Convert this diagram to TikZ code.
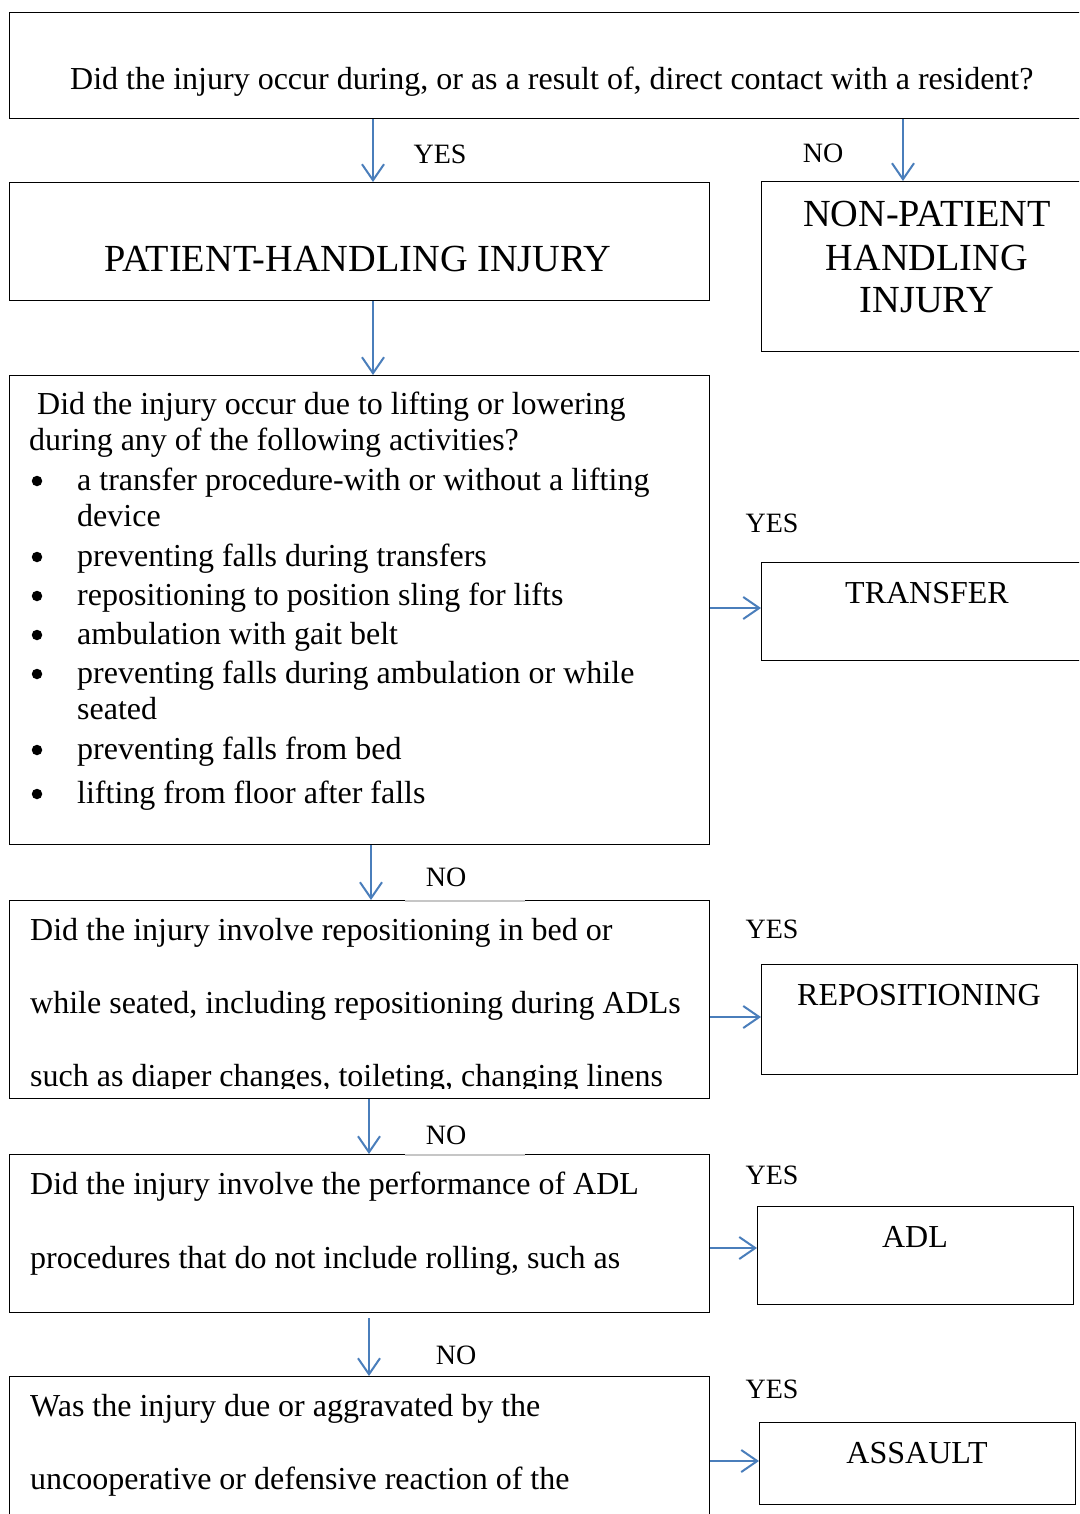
\documentclass[tikz,border=0pt]{standalone}
\usepackage{fontspec}
\setmainfont{Liberation Serif}
\usetikzlibrary{arrows.meta}
\definecolor{arrowblue}{HTML}{4A7EBB}
\begin{document}
\begin{tikzpicture}[x=1pt,y=-1pt,
  box/.style={draw=black,line width=1.3pt,inner sep=0pt,anchor=north west},
  txt/.style={font=\fontsize{32}{38}\selectfont,inner sep=0pt,anchor=base west},
  ctxt/.style={font=\fontsize{32}{38}\selectfont,inner sep=0pt,anchor=base},
  big/.style={font=\fontsize{38.3}{44}\selectfont,inner sep=0pt,anchor=base},
  lbl/.style={font=\fontsize{28}{32}\selectfont,inner sep=0pt,anchor=base},
  bul/.style={circle,fill=black,inner sep=0pt,minimum size=10.5pt},
  nolbl/.style={fill=white,minimum width=120pt,minimum height=44pt,inner sep=0pt,anchor=south},
  arr/.style={draw=arrowblue,line width=2pt,-{Straight Barb[length=16pt,width=22pt,line width=2pt]}}
]
\useasboundingbox (0,0) rectangle (1079,1514);
\clip (0,0) rectangle (1079,1514);
\fill[white] (0,0) rectangle (1079,1514);

% boxes
\node[box,minimum width=1100pt,minimum height=106pt] (q1) at (9,12) {};
\node[box,minimum width=700pt,minimum height=118pt] (ph) at (9,182) {};
\node[box,minimum width=340pt,minimum height=170pt] (nph) at (761,181) {};
\node[box,minimum width=700pt,minimum height=469pt] (q2) at (9,375) {};
\node[box,minimum width=340pt,minimum height=98pt] (tr) at (761,562) {};
\node[box,minimum width=700pt,minimum height=198pt] (q3) at (9,900) {};
\node[box,minimum width=316pt,minimum height=110pt] (rp) at (761,964) {};
\node[box,minimum width=700pt,minimum height=158pt] (q4) at (9,1154) {};
\node[box,minimum width=316pt,minimum height=98pt] (adl) at (757,1206) {};
\node[box,minimum width=700pt,minimum height=160pt] (q5) at (9,1376) {};
\node[box,minimum width=316pt,minimum height=82pt] (as) at (759,1422) {};

% texts
\node[txt] (t1) at (70,90) {Did the injury occur during, or as a result of, direct contact with a resident?};
\node[big] (t2) at (358,271) {PATIENT-HANDLING INJURY};
\node[big] (t3a) at (927,227) {NON-PATIENT};
\node[big] (t3b) at (927,270) {HANDLING};
\node[big] (t3c) at (927,312) {INJURY};

\node[txt] (l1) at (37,414) {Did the injury occur due to lifting or lowering};
\node[txt] (l2) at (29,450) {during any of the following activities?};
\foreach \y/\t [count=\i] in {490/{a transfer procedure-with or without a lifting},
   526/{device},
   566/{preventing falls during transfers},
   605/{repositioning to position sling for lifts},
   644/{ambulation with gait belt},
   683/{preventing falls during ambulation or while},
   719/{seated},
   759/{preventing falls from bed},
   803/{lifting from floor after falls}}
  {\node[txt] (li\i) at (77,\y) {\t};}
\foreach \y [count=\i] in {481,557,596,635,674,750,794}
  {\node[bul] (bu\i) at (37,\y) {};}

\node[ctxt] (t4) at (927,603) {TRANSFER};

\node[txt] (m1) at (30,940) {Did the injury involve repositioning in bed or};
\node[txt] (m2) at (30,1013) {while seated, including repositioning during ADLs};
\begin{scope}
\clip (10,1050) rectangle (708,1088);
\node[txt] (m3) at (30,1086) {such as diaper changes, toileting, changing linens};
\end{scope}
\node[ctxt] (t5) at (919,1005) {REPOSITIONING};

\node[txt] (n1) at (30,1194) {Did the injury involve the performance of ADL};
\node[txt] (n2) at (30,1268) {procedures that do not include rolling, such as};
\node[ctxt] (t6) at (915,1247) {ADL};

\node[txt] (o1) at (30,1416) {Was the injury due or aggravated by the};
\node[txt] (o2) at (30,1489) {uncooperative or defensive reaction of the};
\node[ctxt] (t7) at (917,1463) {ASSAULT};

% NO label backgrounds
\node[nolbl] (nb1) at (465,901) {};
\draw[gray!45,line width=1.3pt] (nb1.south west) -- (nb1.south east);
\node[nolbl] (nb2) at (465,1155) {};
\draw[gray!45,line width=1.3pt] (nb2.south west) -- (nb2.south east);

% labels
\node[lbl] (y1) at (440,164) {YES};
\node[lbl] (no1) at (823,163) {NO};
\node[lbl] (y2) at (772,532) {YES};
\node[lbl] (no2) at (446,886) {NO};
\node[lbl] (y3) at (772,938) {YES};
\node[lbl] (no3) at (446,1144) {NO};
\node[lbl] (y4) at (772,1184) {YES};
\node[lbl] (no4) at (456,1364) {NO};
\node[lbl] (y5) at (772,1398) {YES};

% arrow coordinates
\coordinate (ax1) at (373,0);
\coordinate (ax2) at (903,0);
\coordinate (ax3) at (371,0);
\coordinate (ax4) at (369,0);
\coordinate (ay1) at (0,608);
\coordinate (ay2) at (0,1017);
\coordinate (ay3) at (0,1248);
\coordinate (ay4) at (0,1461);
\coordinate (s4) at (369,1318);

% connectors
\draw[arr] (ax1 |- q1.south) -- (ax1 |- ph.north);
\draw[arr] (ax2 |- q1.south) -- (ax2 |- nph.north);
\draw[arr] (ax1 |- ph.south) -- (ax1 |- q2.north);
\draw[arr] (ax3 |- q2.south) -- (ax3 |- q3.north);
\draw[arr] (ax4 |- q3.south) -- (ax4 |- q4.north);
\draw[arr] (s4) -- (ax4 |- q5.north);
\draw[arr] (q2.east |- ay1) -- (tr.west |- ay1);
\draw[arr] (q3.east |- ay2) -- (rp.west |- ay2);
\draw[arr] (q4.east |- ay3) -- (adl.west |- ay3);
\draw[arr] (q5.east |- ay4) -- (as.west |- ay4);
\end{tikzpicture}
\end{document}
